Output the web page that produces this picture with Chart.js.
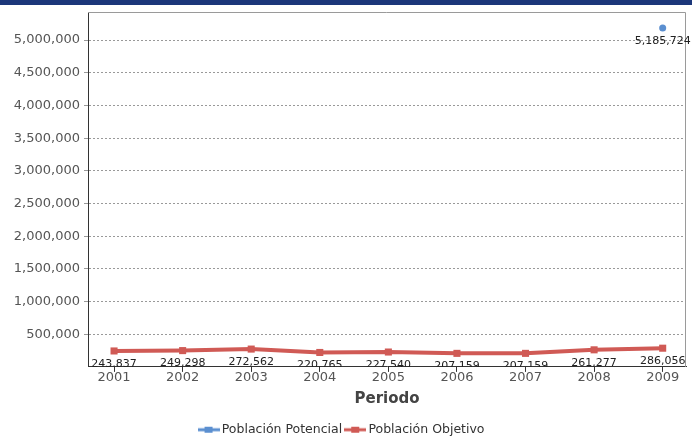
<!DOCTYPE html>
<html>
<head>
<meta charset="utf-8">
<script src="https://cdn.jsdelivr.net/npm/chart.js@4.4.0/dist/chart.umd.min.js"></script>
<style>
  html, body { margin: 0; padding: 0; background: #fff; }
  #wrap { position: relative; width: 692px; height: 437px; }
  #topbar { position: absolute; left: 0; top: 0; width: 692px; height: 5px; background: #1c377a; }
  canvas { display: block; }
</style>
</head>
<body>
<div id="wrap">
  <canvas id="c" width="692" height="437"></canvas>
  <div id="topbar"></div>
</div>
<script>
const years = [2001, 2002, 2003, 2004, 2005, 2006, 2007, 2008, 2009];
const poblacionPotencial = [null, null, null, null, null, null, null, null, 5185724];
const poblacionObjetivo = [243837, 249298, 272562, 220765, 227540, 207159, 207159, 261277, 286056];
const seriesNames = ['Población Potencial', 'Población Objetivo'];
const yTicks = [500000, 1000000, 1500000, 2000000, 2500000, 3000000, 3500000, 4000000, 4500000, 5000000];
const xTitle = 'Periodo';

const BLUE = '#5b8fd0';
const RED = '#d05a55';
const FONT = "'DejaVu Sans', Verdana, sans-serif";

function legendIcon(color) {
  const cv = document.createElement('canvas');
  cv.width = 22; cv.height = 10;
  const g = cv.getContext('2d');
  g.strokeStyle = color; g.fillStyle = color; g.lineWidth = 3;
  g.beginPath(); g.moveTo(0, 5); g.lineTo(22, 5); g.stroke();
  g.fillRect(7, 2, 8, 6);
  return cv;
}
const icons = [legendIcon(BLUE), legendIcon(RED)];

const pts = arr => years.map((y, i) => ({ x: y, y: arr[i] }));

const frame = {
  id: 'frame',
  beforeDatasetsDraw(chart) {
    const a = chart.chartArea, ctx = chart.ctx;
    ctx.save();
    ctx.strokeStyle = '#9a9a9a'; ctx.lineWidth = 1;
    ctx.beginPath();
    ctx.moveTo(a.left, a.top + 0.5); ctx.lineTo(a.right - 0.5, a.top + 0.5); ctx.lineTo(a.right - 0.5, a.bottom);
    ctx.stroke();
    ctx.restore();
  }
};

const dataLabels = {
  id: 'dataLabels',
  afterDatasetsDraw(chart) {
    const ctx = chart.ctx, a = chart.chartArea;
    ctx.save();
    ctx.beginPath(); ctx.rect(0, a.top, chart.width, a.bottom - a.top); ctx.clip();
    ctx.font = '11px ' + FONT; ctx.fillStyle = '#222';
    ctx.textAlign = 'center'; ctx.textBaseline = 'middle';
    chart.data.datasets.forEach((ds, di) => {
      const meta = chart.getDatasetMeta(di);
      meta.data.forEach((el, i) => {
        const v = ds.data[i].y;
        if (v == null) return;
        ctx.fillText(v.toLocaleString('en-US'), el.x, el.y + 13);
      });
    });
    ctx.restore();
  }
};

new Chart(document.getElementById('c'), {
  type: 'line',
  data: {
    datasets: [
      { label: seriesNames[0], data: pts(poblacionPotencial), borderColor: BLUE, backgroundColor: BLUE,
        borderWidth: 4, pointStyle: 'circle', pointRadius: 3.5, pointBorderWidth: 0, spanGaps: false },
      { label: seriesNames[1], data: pts(poblacionObjetivo), borderColor: RED, backgroundColor: RED,
        borderWidth: 4, pointStyle: 'rect', pointRadius: 5, pointBorderWidth: 0 }
    ]
  },
  options: {
    responsive: false,
    animation: false,
    clip: false,
    layout: { padding: { left: 0, right: 6, top: 12, bottom: -9 } },
    scales: {
      x: {
        type: 'linear', min: 2000.62, max: 2009.34,
        afterBuildTicks: s => { s.ticks = years.map(v => ({ value: v })); },
        ticks: { callback: v => String(v), color: '#555', font: { family: FONT, size: 13 }, padding: -2, maxRotation: 0 },
        grid: { drawOnChartArea: false, drawTicks: true, tickLength: 5, color: '#333' },
        border: { display: true, color: '#333', width: 1 },
        title: { display: true, text: xTitle, color: '#444', font: { family: FONT, size: 15, weight: 'bold' }, padding: { top: 7, bottom: 9 } }
      },
      y: {
        min: 0, max: 5430000,
        afterBuildTicks: s => { s.ticks = yTicks.map(v => ({ value: v })); },
        afterFit: s => { s.width = 88; },
        ticks: { callback: v => v.toLocaleString('en-US'), color: '#555', font: { family: FONT, size: 13 }, padding: 4 },
        grid: { color: '#999', tickLength: 4, lineWidth: 1 },
        border: { display: true, color: '#333', width: 1, dash: [2, 2] }
      }
    },
    plugins: {
      legend: {
        position: 'bottom',
        labels: {
          usePointStyle: true, pointStyleWidth: 14, boxHeight: 10, padding: 6,
          color: '#333', font: { family: FONT, size: 12.5 },
          generateLabels: chart => chart.data.datasets.map((ds, i) => ({
            text: ds.label, pointStyle: icons[i], datasetIndex: i, hidden: false,
            fontColor: '#333', lineWidth: 0, strokeStyle: 'transparent', fillStyle: 'transparent'
          }))
        }
      },
      tooltip: { enabled: false }
    }
  },
  plugins: [frame, dataLabels]
});
</script>
</body>
</html>
